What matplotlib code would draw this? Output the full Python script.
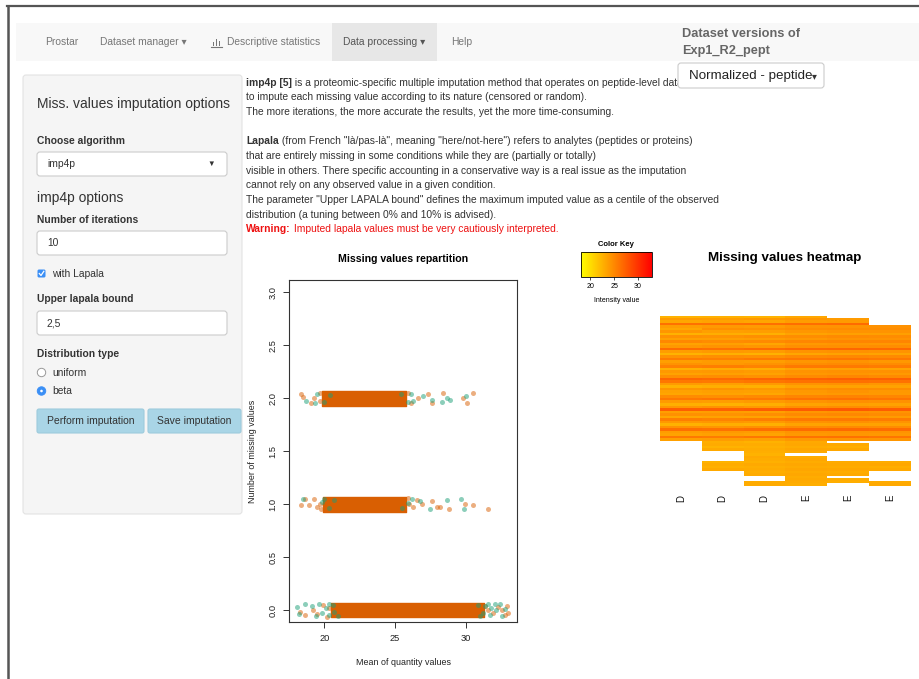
import numpy as np
import matplotlib
matplotlib.use("Agg")
import matplotlib.pyplot as plt
from matplotlib.patches import Rectangle, FancyBboxPatch, Circle
from matplotlib.colors import LinearSegmentedColormap, Normalize
from matplotlib.cm import ScalarMappable

plt.rcParams['font.family'] = ['Liberation Sans', 'DejaVu Sans']

nan = np.nan
W, H = 920, 679

# ---- scatter "Missing values repartition" ----
band_levels = [0.0, 1.0, 2.0]
band_lo = [20.5, 19.9, 19.85]
band_hi = [31.3, 25.8, 25.75]
band_half = 0.07

d_x = [18.05, 18.24, 18.66, 19.1, 19.4, 19.65, 19.81, 20.1, 20.35, 20.6, 21.0, 20.3, 20.7,
       30.9, 31.36, 31.55, 31.72, 32.07, 32.14, 32.43, 32.6, 32.8, 31.0, 31.25, 31.8,
       18.5, 19.85, 20.0, 20.3, 20.7, 25.5, 26.18, 26.8, 27.5, 28.65, 29.7, 29.9, 25.9,
       18.7, 19.34, 19.5, 20.0, 20.4, 25.4, 25.9, 26.11, 26.3, 27.0, 27.6, 28.35, 28.7, 28.9, 30.0]
d_y = [0.03, -0.035, 0.056, 0.038, -0.06, 0.057, -0.03, 0.02, -0.05, 0.05, -0.055, 0.06, -0.02,
       0.05, 0.038, 0.06, -0.05, 0.057, 0.0, 0.057, -0.06, 0.01, -0.06, -0.03, 0.02,
       1.05, 1.02, 1.05, 0.96, 1.04, 0.96, 1.05, 1.03, 0.95, 1.04, 1.05, 0.95, 1.01,
       1.97, 1.95, 2.04, 1.96, 2.03, 2.04, 1.96, 2.04, 1.97, 2.02, 1.98, 1.96, 2.0, 1.98, 2.02]
e_x = [18.28, 18.6, 19.22, 19.46, 19.9, 20.2, 20.35, 31.4, 31.6, 31.9, 32.3, 32.55, 32.9, 33.0, 32.75,
       18.35, 18.63, 18.93, 19.3, 19.5, 19.7, 19.75, 26.0, 26.3, 26.9, 27.6, 27.95, 28.15, 28.8,
       29.97, 30.5, 31.55, 26.55, 25.95,
       18.35, 18.5, 19.06, 19.7, 19.7, 26.65, 27.35, 27.6, 28.4, 29.8, 30.07, 30.5, 26.1, 19.3, 25.9]
e_y = [-0.016, -0.045, 0.0, -0.04, 0.045, -0.062, 0.02, 0.04, 0.0, -0.03, 0.03, 0.0, 0.038, -0.03, -0.05,
       0.99, 1.05, 0.99, 1.05, 0.97, 1.0, 0.95, 1.0, 0.97, 1.0, 1.03, 0.97, 0.97, 0.95,
       1.0, 0.99, 0.95, 1.04, 1.06,
       2.04, 2.01, 1.95, 2.05, 1.97, 2.0, 2.04, 1.95, 2.05, 2.0, 1.95, 2.05, 1.95, 2.0, 2.05]
x_ticks = [20, 25, 30]
y_ticks = [0.0, 0.5, 1.0, 1.5, 2.0, 2.5, 3.0]
col_d, col_e = '#1b9e77', '#d95f02'

# ---- heatmap "Missing values heatmap" (NaN = missing) ----
heat_cols = ['D', 'D', 'D', 'E', 'E', 'E']
heat_vals = np.array([
    [22.6, 22.7, 22.5, 23.2, nan, nan],
    [23.9, 23.8, 24.0, 24.2, 23.9, nan],
    [23.2, 23.4, 23.3, 23.8, 23.9, nan],
    [26.3, 26.2, 26.4, 26.5, 26.7, nan],
    [23.8, 24.0, 23.9, 24.3, 24.4, 24.5],
    [23.3, 24.6, 24.5, 24.7, 24.8, 24.7],
    [24.2, 23.7, 23.8, 24.2, 24.4, 24.3],
    [22.6, 22.8, 22.7, 23.4, 23.6, 23.7],
    [24.5, 24.4, 24.6, 24.7, 24.9, 24.8],
    [23.6, 23.7, 23.8, 24.1, 24.3, 24.4],
    [25.0, 24.8, 24.9, 25.1, 25.2, 25.2],
    [23.4, 23.6, 23.3, 24.0, 24.2, 24.1],
    [24.1, 24.3, 24.2, 24.6, 24.6, 24.7],
    [26.6, 26.4, 26.7, 26.9, 27.0, 26.8],
    [23.8, 24.0, 23.9, 24.4, 24.5, 24.3],
    [22.5, 22.7, 22.6, 23.3, 23.5, 23.4],
    [24.4, 24.6, 24.5, 24.9, 25.0, 24.9],
    [25.7, 25.5, 25.8, 26.0, 26.1, 25.9],
    [23.7, 23.9, 23.8, 24.2, 24.3, 24.1],
    [24.3, 24.1, 24.4, 24.7, 24.9, 24.8],
    [25.4, 25.6, 25.3, 25.8, 25.8, 25.7],
    [22.7, 22.9, 22.8, 23.5, 23.6, 23.4],
    [24.0, 24.1, 23.9, 24.4, 24.5, 24.5],
    [23.4, 23.6, 23.5, 24.1, 24.2, 24.0],
    [24.6, 24.7, 24.5, 24.9, 25.1, 24.9],
    [27.0, 26.8, 27.1, 27.2, 27.4, 27.3],
    [26.0, 25.8, 26.1, 26.3, 26.4, 26.2],
    [23.9, 23.7, 24.0, 24.3, 24.5, 24.2],
    [22.6, 22.8, 22.7, 23.4, 23.5, 23.5],
    [24.2, 24.4, 24.1, 24.6, 24.8, 24.7],
    [23.5, 23.7, 23.6, 24.1, 24.3, 24.1],
    [23.3, 23.4, 23.2, 23.9, 24.0, 24.0],
    [24.8, 24.6, 24.9, 25.2, 25.3, 25.1],
    [25.9, 26.1, 25.8, 26.2, 26.3, 26.1],
    [23.9, 23.8, 24.0, 24.4, 24.6, 24.5],
    [22.7, 22.6, 22.8, 23.4, 23.6, 23.5],
    [24.1, 24.3, 24.0, 24.6, 24.7, 24.5],
    [27.4, 27.2, 27.5, 27.6, 27.7, 27.5],
    [23.7, 23.8, 23.7, 24.2, 24.4, 24.3],
    [24.5, 24.3, 24.6, 24.9, 25.0, 24.8],
    [23.3, 23.5, 23.4, 24.0, 24.1, 23.9],
    [25.5, 25.3, 25.6, 25.8, 25.9, 25.7],
    [24.0, 24.2, 24.0, 24.5, 24.6, 24.4],
    [22.6, 22.8, 22.7, 23.4, 23.5, 23.5],
    [24.4, 24.2, 24.5, 24.8, 24.9, 24.8],
    [26.4, 26.2, 26.5, 26.7, 26.8, 26.6],
    [23.8, 24.0, 23.9, 24.3, 24.4, 24.3],
    [23.4, 23.6, 23.4, 24.1, 24.2, 24.1],
    [25.9, 25.7, 26.0, 26.2, 26.3, 26.1],
    [23.6, 23.8, 23.6, 24.1, 24.2, 24.2],
    [nan, 22.8, 22.6, 23.1, nan, nan],
    [nan, 23.0, 22.9, 23.2, 23.1, nan],
    [nan, 22.5, 22.7, 22.9, 22.8, nan],
    [nan, 23.1, 22.9, 23.3, 23.2, nan],
    [nan, nan, 22.8, 23.0, nan, nan],
    [nan, nan, 22.6, nan, nan, nan],
    [nan, nan, 23.1, 22.9, nan, nan],
    [nan, nan, 22.9, 23.2, nan, nan],
    [nan, 22.5, 22.7, 22.9, 23.0, 22.9],
    [nan, 22.9, 23.1, 23.2, 23.1, 23.2],
    [nan, 22.7, 22.8, 23.0, 22.9, 22.8],
    [nan, 23.1, 23.0, 23.3, 23.2, 23.1],
    [nan, nan, 22.8, 23.0, 22.9, nan],
    [nan, nan, 23.0, 23.2, 23.1, nan],
    [nan, nan, nan, 22.9, nan, nan],
    [nan, nan, nan, 23.1, 22.9, nan],
    [nan, nan, 22.9, 23.0, 22.8, 23.0],
    [nan, nan, 23.0, 22.8, nan, 23.1],
])
key_min, key_max = 18.1, 32.9
key_ticks = [20, 25, 30]

# ---- page texts ----
nav_items = ['Prostar', 'Dataset manager \u25BE', 'Descriptive statistics',
             'Data processing \u25BE', 'Help']
help_lines = [
    [('imp4p [5]', True, '#333333'),
     (' is a proteomic-specific multiple imputation method that operates on peptide-level data', False, '#333333')],
    [('to impute each missing value according to its nature (censored or random).', False, '#333333')],
    [('The more iterations, the more accurate the results, yet the more time-consuming.', False, '#333333')],
    [],
    [('Lapala', True, '#333333'),
     (' (from French "l\u00e0/pas-l\u00e0", meaning "here/not-here") refers to analytes (peptides or proteins)', False, '#333333')],
    [('that are entirely missing in some conditions while they are (partially or totally)', False, '#333333')],
    [('visible in others. There specific accounting in a conservative way is a real issue as the imputation', False, '#333333')],
    [('cannot rely on any observed value in a given condition.', False, '#333333')],
    [('The parameter "Upper LAPALA bound" defines the maximum imputed value as a centile of the observed', False, '#333333')],
    [('distribution (a tuning between 0% and 10% is advised).', False, '#333333')],
    [('Warning:', True, '#ee1111'),
     (' Imputed lapala values must be very cautiously interpreted.', False, '#ee1111')],
]

fig = plt.figure(figsize=(W / 100, H / 100), dpi=100)
ui = fig.add_axes([0, 0, 1, 1])
ui.set_xlim(0, W)
ui.set_ylim(H, 0)
ui.axis('off')
rend = fig.canvas.get_renderer()


def box(x0, y0, x1, y1, fc, ec='none', r=0, lw=0.8, z=1):
    if r > 0:
        p = FancyBboxPatch((x0, y0), x1 - x0, y1 - y0, boxstyle='round,pad=0,rounding_size=%g' % r,
                           fc=fc, ec=ec, lw=lw, zorder=z)
    else:
        p = Rectangle((x0, y0), x1 - x0, y1 - y0, fc=fc, ec=ec, lw=lw, zorder=z)
    ui.add_patch(p)


def rich(x, y, parts, size=7.4, z=3):
    for txt, bold, col in parts:
        t = ui.text(x, y, txt, fontsize=size, fontweight='bold' if bold else 'normal',
                    color=col, va='center', ha='left', zorder=z)
        x += t.get_window_extent(rend).width


# outer frame
ui.plot([7, W], [6, 6], color='#555555', lw=1.6)
ui.plot([8, 8], [6, H], color='#555555', lw=1.8)

# navbar
box(16, 23, W, 61, '#f8f8f8')
box(332, 23, 437, 61, '#e7e7e7')
for txt, x in zip(nav_items, [45, 100, 227, 343, 451]):
    ui.text(x, 42, txt, fontsize=7.4, color='#777777' if 'processing' not in txt else '#555555',
            va='center')
ui.plot([211, 222], [46.5, 46.5], color='#777777', lw=0.8)
for bx, bh in zip([213, 216, 219], [4, 7, 5]):
    box(bx, 46 - bh, bx + 1.4, 46, '#777777')
ui.text(682, 34, 'Dataset versions of', fontsize=9.2, fontweight='bold', color='#666666', va='center')
ui.text(682, 51, 'Exp1_R2_pept', fontsize=9.2, fontweight='bold', color='#666666', va='center')
box(678, 63, 824, 88, 'white', '#cccccc', r=3, z=4)
ui.text(689, 76, 'Normalized - peptide', fontsize=9.6, color='#222222', va='center', zorder=5)
ui.text(812, 76, '\u25BE', fontsize=7, color='#333333', va='center', zorder=5)

# sidebar panel
box(23, 75, 242, 514, '#f5f5f5', '#e3e3e3', r=3)
ui.text(37, 104, 'Miss. values imputation options', fontsize=10, color='#333333', va='center')
ui.text(37, 141, 'Choose algorithm', fontsize=7.4, fontweight='bold', color='#333333', va='center')
box(37, 152, 227, 176, 'white', '#cccccc', r=3)
ui.text(47, 164, 'imp4p', fontsize=7.4, color='#333333', va='center')
ui.text(207, 164, '\u25BC', fontsize=5.5, color='#333333', va='center')
ui.text(37, 198, 'imp4p options', fontsize=10, color='#333333', va='center')
ui.text(37, 220, 'Number of iterations', fontsize=7.4, fontweight='bold', color='#333333', va='center')
box(37, 231, 227, 255, 'white', '#cccccc', r=3)
ui.text(47, 243, '10', fontsize=7.4, color='#333333', va='center')
box(37.5, 269.5, 45.5, 277.5, '#3b8ff5', r=1.5)
ui.plot([39.3, 41.0, 43.8], [273.5, 275.5, 271.3], color='white', lw=0.9)
ui.text(52, 274, 'with Lapala', fontsize=7.4, color='#333333', va='center')
ui.text(37, 299, 'Upper lapala bound', fontsize=7.4, fontweight='bold', color='#333333', va='center')
box(37, 311, 227, 335, 'white', '#cccccc', r=3)
ui.text(47, 323, '2,5', fontsize=7.4, color='#333333', va='center')
ui.text(37, 354, 'Distribution type', fontsize=7.4, fontweight='bold', color='#333333', va='center')
ui.add_patch(Circle((41.5, 372.5), 4.2, fc='white', ec='#999999', lw=0.7))
ui.text(52, 372.5, 'uniform', fontsize=7.4, color='#333333', va='center')
ui.add_patch(Circle((41.5, 391), 4.2, fc='#3b8ff5', ec='#3b8ff5', lw=0.7))
ui.add_patch(Circle((41.5, 391), 1.3, fc='white', ec='none'))
ui.text(52, 391, 'beta', fontsize=7.4, color='#333333', va='center')
box(37, 409, 144, 433, '#a9d5e6', '#9ecbdc', r=2)
box(148, 409, 241, 433, '#a9d5e6', '#9ecbdc', r=2)
ui.text(90.5, 421.5, 'Perform imputation', fontsize=7.5, color='#333333', va='center', ha='center')
ui.text(194.5, 421.5, 'Save imputation', fontsize=7.5, color='#333333', va='center', ha='center')

# help text
for i, parts in enumerate(help_lines):
    if parts:
        rich(246, 82.7 + 14.66 * i, parts)

# scatter plot
ax = fig.add_axes([289 / W, 1 - 622 / H, (517 - 289) / W, (622 - 280) / H])
for lvl, lo, hi in zip(band_levels, band_lo, band_hi):
    ax.broken_barh([(lo, hi - lo)], (lvl - band_half, 2 * band_half), color=col_e, zorder=2)
ax.scatter(e_x, e_y, s=13, color=col_e, alpha=0.5, lw=0, zorder=3)
ax.scatter(d_x, d_y, s=13, color=col_d, alpha=0.5, lw=0, zorder=4)
ax.set_xlim(17.5, 33.63)
ax.set_ylim(-0.113, 3.116)
ax.set_xticks(x_ticks)
ax.set_xticklabels([str(v) for v in x_ticks], fontsize=6.7, color='#222222')
ax.set_yticks(y_ticks)
ax.set_yticklabels(['%.1f' % v for v in y_ticks], fontsize=6.7, color='#222222',
                   rotation=90, va='center')
ax.tick_params(length=4.5, width=0.7, color='#333333', pad=4)
for s in ax.spines.values():
    s.set_color('#333333')
    s.set_linewidth(0.8)
ax.set_xlabel('Mean of quantity values', fontsize=6.4, color='#222222', labelpad=11)
ax.set_ylabel('Number of missing values', fontsize=6.4, color='#222222', labelpad=8)
ax.set_title('Missing values repartition', fontsize=7.6, fontweight='bold', pad=13)
for lab, c, yy in [('D', col_d, 290.5), ('E', col_e, 301)]:
    box(494.5, yy - 3.8, 502, yy + 3.8, c)
    ui.text(506, yy, lab, fontsize=7, color='#222222', va='center')

# heatmap
cmap = LinearSegmentedColormap.from_list('yr', ['#ffff00', '#ff0000'])
cmap.set_bad('white')
hx = fig.add_axes([660 / W, 1 - 486.5 / H, (910.7 - 660) / W, (486.5 - 316) / H])
hx.imshow(np.ma.masked_invalid(heat_vals), cmap=cmap, vmin=key_min, vmax=key_max,
          aspect='auto', interpolation='nearest')
hx.set_xticks(range(len(heat_cols)))
hx.set_xticklabels(heat_cols, rotation=90, fontsize=7, color='#111111')
hx.set_yticks([])
hx.tick_params(length=0, pad=6)
for s in hx.spines.values():
    s.set_visible(False)
ui.text(785, 258, 'Missing values heatmap', fontsize=9.6, fontweight='bold', ha='center', va='center')

# color key
kx = fig.add_axes([581 / W, 1 - 277 / H, (652 - 581) / W, (277 - 252) / H])
cb = fig.colorbar(ScalarMappable(Normalize(key_min, key_max), cmap), cax=kx, orientation='horizontal')
cb.set_ticks(key_ticks)
cb.ax.tick_params(labelsize=5, length=2.5, width=0.5, pad=1.5)
cb.outline.set_linewidth(0.6)
ui.text(616, 244.5, 'Color Key', fontsize=5.5, fontweight='bold', ha='center', va='center')
ui.text(617, 300.5, 'Intensity value', fontsize=5, ha='center', va='center')

fig.savefig('out.png', dpi=100)
